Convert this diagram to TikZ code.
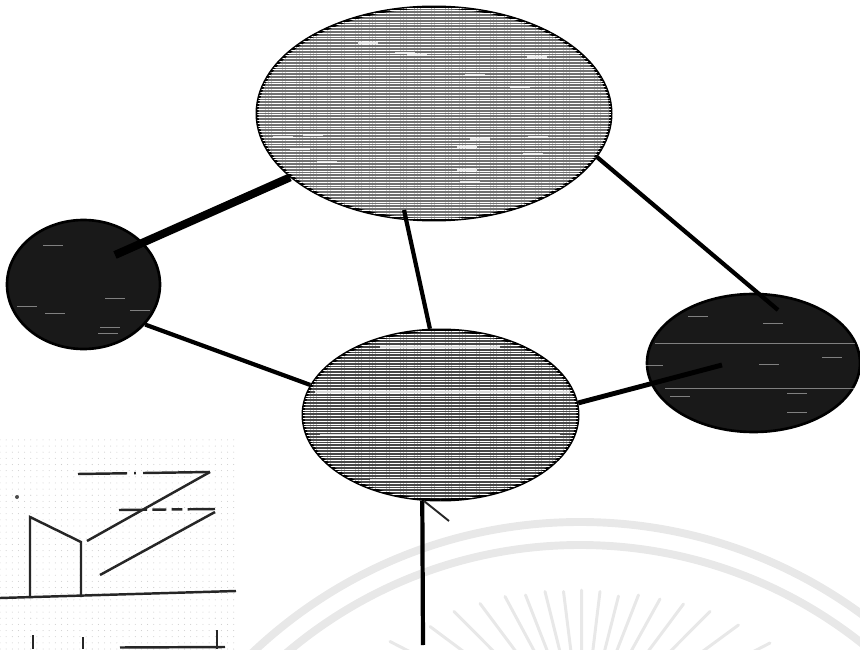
\documentclass[tikz,border=0pt]{standalone}
\usetikzlibrary{patterns.meta,calc,shapes.geometric}
\begin{document}
\begin{tikzpicture}[
    lightblob/.style={ellipse, draw=black, line width=1.7pt, fill=black!56, inner sep=0pt, postaction={pattern={Lines[angle=0,distance=1.6pt,line width=0.45pt]}, pattern color=white}},
    darkblob/.style={ellipse, draw=black, line width=1.5pt, fill=black!90, inner sep=0pt},
    link/.style={line width=2.4pt, black},
    fatlink/.style={line width=4.6pt, black},
    speck/.style={white, line width=0.9pt, opacity=0.8},
    dimspeck/.style={white, line width=0.5pt, opacity=0.45},
    chartline/.style={line width=1.4pt, black!85},
    stamp/.style={line width=4.5pt, black!9},
    ray/.style={line width=1.7pt, black!9, line cap=round},
]
\useasboundingbox (0,0) rectangle (17.2,12.98);
\fill[pattern={Dots[distance=3.5pt,radius=0.3pt]}, pattern color=black!20] (0,0) rectangle (4.7,4.2);

% faint stamp behind
\begin{scope}
\clip (0,0) rectangle (17.2,12.98);
\coordinate (hub) at (11.64,-1.82);
\draw[stamp] (11.6,-6.98) circle (9.52);
\draw[stamp] (11.6,-6.98) circle (9.06);
\foreach \x/\y in {11.63/1.18, 11.27/1.15, 10.90/1.15, 10.51/1.08, 10.10/1.05, 9.60/0.91, 9.08/0.75, 8.60/0.45, 7.80/0.15, 12.00/1.15, 12.37/1.06, 12.77/1.08, 13.20/1.00, 13.67/0.90, 14.20/0.75, 14.77/0.48, 15.40/0.12}
    \draw[ray] (\x,\y) -- ($(\x,\y)!0.4!(hub)$);
\end{scope}

\node[lightblob, minimum width=7.08cm, minimum height=4.26cm] (top) at (8.68,10.71) {};
\node[darkblob, minimum width=3.06cm, minimum height=2.58cm] (left) at (1.67,7.29) {};
\node[lightblob, fill=black!72, minimum width=5.5cm, minimum height=3.4cm] (mid) at (8.81,4.68) {};
\node[darkblob, minimum width=4.26cm, minimum height=2.76cm] (right) at (15.07,5.72) {};

\foreach \x/\y in {7.36/12.12, 8.10/11.92, 8.34/11.88, 10.74/11.84, 9.50/11.48, 10.40/11.24, 6.26/10.28, 5.66/10.24, 9.60/10.20, 9.34/10.04, 10.76/10.24, 10.66/9.90, 6.54/9.74, 9.34/9.58, 9.40/9.34, 6.00/10.00}
    \draw[speck] (\x-0.2,\y) -- (\x+0.2,\y);
\foreach \x/\y in {1.06/8.08, 0.54/6.86, 1.10/6.72, 2.30/7.02, 2.80/6.78, 2.20/6.44, 2.16/6.32,
                  13.96/6.66, 15.46/6.52, 15.38/5.70, 16.64/5.84, 15.94/5.12, 15.94/4.74, 13.60/5.06, 13.06/5.68}
    \draw[dimspeck] (\x-0.2,\y) -- (\x+0.2,\y);
\draw[dimspeck] (13.1,6.12) -- (17.1,6.12);
\draw[dimspeck] (13.3,5.22) -- (17.1,5.22);
\draw[speck] (6.3,5.14) -- (11.4,5.14);
\draw[speck] (6.4,4.28) -- (11.2,4.28);
\draw[speck] (7.6,6.04) -- (10.0,6.04);
\draw[speck] (7.4,3.38) -- (10.4,3.38);

\coordinate (leftin) at (2.30,7.88);
\coordinate (topin) at (8.08,8.78);
\coordinate (rightin) at (15.56,6.78);
\coordinate (rightmid) at (14.44,5.68);
\coordinate (foot) at (8.46,0.08);
\coordinate (tick) at (8.98,2.56);

\draw[fatlink] (top) -- (leftin);
\draw[link] (topin) -- (mid.97);
\draw[link] (top.-15) -- (rightin);
\draw[link] (left.-33) -- (mid.167);
\draw[link, line width=2.8pt] (mid.5) -- (rightmid);
\draw[link] (mid.-102) -- (foot);
\draw[line width=1.1pt, black!85] (mid.-101) -- (tick);

% small chart
\draw[chartline] (0,1.02) -- (4.72,1.16);
\draw[chartline] (0.60,1.02) -- (0.60,2.64) -- (1.62,2.14) -- (1.62,1.04);
\draw[chartline] (1.74,2.16) -- (4.20,3.54);
\draw[chartline] (2.00,1.48) -- (4.30,2.74);
\draw[chartline, dash pattern=on 28pt off 4pt on 1pt off 4pt on 40pt off 6pt on 8pt off 4pt] (1.56,3.50) -- (4.20,3.54);
\draw[chartline, dash pattern=on 16pt off 3pt on 8pt off 3pt on 6pt off 3pt] (2.38,2.78) -- (4.30,2.80);
\draw[chartline] (0.66,0.28) -- (0.66,0);
\draw[chartline] (1.66,0.24) -- (1.66,0);
\draw[chartline] (4.34,0.38) -- (4.34,0);
\draw[chartline] (2.40,0.03) -- (4.50,0.04);
\fill[black!70] (0.34,3.04) circle (0.04);
\end{tikzpicture}
\end{document}
